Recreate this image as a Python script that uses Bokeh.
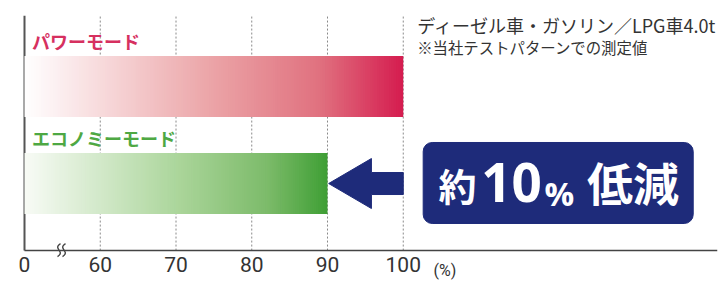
from bokeh.plotting import figure
from bokeh.models import Range1d, FixedTicker
from bokeh.core.properties import value
from bokeh.embed import file_html
from bokeh.resources import INLINE

# ---- data ----
modes = ["パワーモード", "エコノミーモード"]
mode_values = [100, 90]
label_colors = ["#d6305f", "#4ea843"]
tick_values = [50, 60, 70, 80, 90, 100]
tick_labels = ["0", "60", "70", "80", "90", "100"]
note_lines = ["ディーゼル車・ガソリン／LPG車4.0t", "※当社テストパターンでの測定値"]
unit_label = "(%)"

# gradient stops per bar (fraction of bar length, colour)
gradients = [
    [(0.0, "#ffffff"), (0.06, "#fdf4f5"), (0.5, "#eba3a6"), (0.78, "#e0717f"), (1.0, "#d51c4f")],
    [(0.0, "#f8fbf6"), (0.5, "#acd69c"), (0.8, "#7dbb6a"), (1.0, "#3f9f35")],
]

NAVY = "#1e2b7a"
JP = "Noto Sans CJK JP"
base = tick_values[0]

PXX = 7.575   # px per x unit
PXY = 97.0    # px per y unit
axis_y = -0.691
x_start = base - 24 / PXX
x_end = base + 693 / PXX

p = figure(width=720, height=281,
           x_range=Range1d(x_start, x_end),
           y_range=Range1d(-1.010, 1.732),
           output_backend="svg", toolbar_location=None,
           min_border_left=0, min_border_right=3,
           min_border_top=15, min_border_bottom=0)
p.outline_line_color = None
p.background_fill_color = "white"
p.yaxis.visible = False
p.ygrid.visible = False
p.xgrid.visible = False

ax = p.xaxis[0]
ax.fixed_location = axis_y
ax.bounds = (base, x_end)
ax.ticker = FixedTicker(ticks=tick_values)
ax.major_label_overrides = {t: l for t, l in zip(tick_values, tick_labels)}
ax.major_tick_in = 0
ax.major_tick_out = 0
ax.minor_tick_in = 0
ax.minor_tick_out = 0
ax.major_label_standoff = 6
ax.axis_line_color = "#444444"
ax.axis_line_width = 1.5
ax.major_label_text_font = "Roboto"
ax.major_label_text_font_size = "21px"
ax.major_label_text_color = "#333333"

y_top = 1.732
# dotted grid lines (above the axis only)
grid_x = tick_values[1:]
p.segment(x0=grid_x, y0=[axis_y] * len(grid_x), x1=grid_x, y1=[y_top] * len(grid_x),
          line_color="#8a8a8a", line_dash="2 2", line_width=1)
# left axis line
p.segment(x0=[base], y0=[axis_y], x1=[base], y1=[y_top], line_color="#555555", line_width=2)


def hex2rgb(h):
    return int(h[1:3], 16), int(h[3:5], 16), int(h[5:7], 16)


def grad_color(stops, t):
    for (t0, c0), (t1, c1) in zip(stops[:-1], stops[1:]):
        if t <= t1:
            f = (t - t0) / (t1 - t0)
            a, b = hex2rgb(c0), hex2rgb(c1)
            return "#%02x%02x%02x" % tuple(round(a[j] + (b[j] - a[j]) * f) for j in range(3))
    return stops[-1][1]


ypos = [len(modes) - 1 - i for i in range(len(modes))]
bar_h = 0.63
n = 160
for i, (m, v) in enumerate(zip(modes, mode_values)):
    lefts, rights, cols = [], [], []
    step = (v - base) / n
    for k in range(n):
        l = base + step * k
        r = min(v, base + step * (k + 1) + step * 0.6)
        lefts.append(l)
        rights.append(r)
        cols.append(grad_color(gradients[i], (k + 0.5) / n))
    p.quad(left=lefts, right=rights, bottom=[ypos[i] - bar_h / 2] * n, top=[ypos[i] + bar_h / 2] * n,
           fill_color=cols, line_color=None)
    p.text(x=[base + 1.0], y=[ypos[i] + 0.47], text=[m], text_font=value(JP), text_font_style="bold",
           text_font_size="18px", text_color=label_colors[i], text_align="left", text_baseline="middle")

# arrow from power value to eco value
eco_y = ypos[1]
tip = mode_values[1] + 0.15
head_back = mode_values[1] + 5.8
tail = mode_values[0]
hh = 25 / PXY
sh = 11 / PXY
p.patch(x=[tip, head_back, head_back, tail, tail, head_back, head_back],
        y=[eco_y, eco_y + hh, eco_y + sh, eco_y + sh, eco_y - sh, eco_y - sh, eco_y - hh],
        fill_color=NAVY, line_color=NAVY, line_width=1)

# reduction box (rounded rectangle)
reduction = mode_values[0] - mode_values[1]
box_l, box_r, box_b, box_t = 102.63, 138.28, -0.412, 0.423
p.block(x=[box_l], y=[box_b], width=[box_r - box_l], height=[box_t - box_b],
        fill_color=NAVY, line_color=NAVY, line_width=1, border_radius=9)
p.text(x=[107.16], y=[-0.01], text=["約"], text_font=value(JP), text_font_style="bold",
       text_font_size="38px", text_color="white", text_align="center", text_baseline="middle")
p.text(x=[114.3], y=[0.006], text=[str(reduction)], text_font=value("Open Sans"), text_font_style="bold",
       text_font_size="53px", text_color="white", text_align="center", text_baseline="middle")
p.text(x=[120.6], y=[-0.10], text=["%"], text_font=value("Open Sans"), text_font_style="bold",
       text_font_size="33px", text_color="white", text_align="center", text_baseline="middle")
p.text(x=[130.33], y=[0.027], text=["低減"], text_font=value(JP), text_font_style="bold",
       text_font_size="46px", text_color="white", text_align="center", text_baseline="middle")

# notes
p.text(x=[101.84], y=[1.639], text=[note_lines[0]], text_font=value(JP), text_font_size="18px",
       text_color="#333333", text_align="left", text_baseline="middle")
p.text(x=[101.84], y=[1.412], text=[note_lines[1]], text_font=value(JP), text_font_size="15.4px",
       text_color="#333333", text_align="left", text_baseline="middle")

# unit label next to the axis labels
p.text(x=[105.5], y=[-0.897], text=[unit_label], text_font=value("Roboto"), text_font_size="16px",
       text_color="#333333", text_align="center", text_baseline="middle")


# axis break mark
def bx(px):
    return base + (px - 24.0) / PXX


def by(py):
    return (183 - py) / PXY


for cx in (58.5, 63.5):
    p.bezier(x0=[bx(cx - 1.5)], y0=[by(256)], x1=[bx(cx + 1.5)], y1=[by(243)],
             cx0=[bx(cx + 7)], cy0=[by(251)], cx1=[bx(cx - 7)], cy1=[by(248)],
             line_color="#444444", line_width=1.4)

open("out.html", "w").write(file_html(p, INLINE))
